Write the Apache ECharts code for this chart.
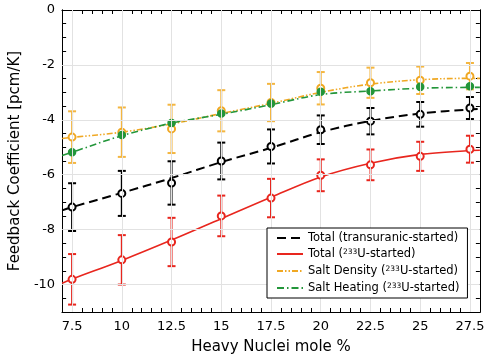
<!DOCTYPE html>
<html><head><meta charset="utf-8">
<script src="https://cdn.jsdelivr.net/npm/echarts@6/dist/echarts.min.js"></script>
<style>html,body{margin:0;padding:0;background:#fff}#c{width:487px;height:360px}</style>
</head><body><div id="c"></div>
<script>
const xs = [7.5, 10, 12.5, 15, 17.5, 20, 22.5, 25, 27.5];
const truPts = [-7.18, -6.68, -6.30, -5.50, -4.97, -4.36, -4.05, -3.80, -3.57];
const truErr = [0.87, 0.82, 0.79, 0.67, 0.62, 0.52, 0.48, 0.45, 0.40];
const u233Pts = [-9.81, -9.10, -8.45, -7.50, -6.85, -6.02, -5.64, -5.33, -5.07];
const u233Err = [0.92, 0.90, 0.88, 0.74, 0.70, 0.58, 0.56, 0.53, 0.49];
const densPts = [-4.63, -4.45, -4.33, -3.67, -3.37, -2.85, -2.65, -2.56, -2.41];
const densErr = [0.94, 0.90, 0.88, 0.75, 0.68, 0.59, 0.55, 0.50, 0.48];
const heatPts = [-5.18, -4.55, -4.12, -3.77, -3.41, -2.98, -2.96, -2.80, -2.78];

const xFit = [7, 7.5, 10, 12.5, 15, 17.5, 20, 22.5, 25, 27.5, 28];
const truFit = [-7.30, -7.18, -6.66, -6.12, -5.54, -5.02, -4.45, -4.04, -3.77, -3.62, -3.60];
const u233Fit = [-9.95, -9.80, -9.12, -8.38, -7.60, -6.82, -6.08, -5.58, -5.26, -5.12, -5.11];
const densFit = [-4.68, -4.64, -4.45, -4.15, -3.77, -3.40, -3.00, -2.70, -2.54, -2.49, -2.49];
const heatFit = [-5.30, -5.18, -4.58, -4.12, -3.80, -3.45, -3.08, -2.95, -2.85, -2.82, -2.82];

const xTicks = [7.5, 10, 12.5, 15, 17.5, 20, 22.5, 25, 27.5];
const yTicks = [0, -2, -4, -6, -8, -10];
const names = ['Total (transuranic-started)', 'Total (233U-started)', 'Salt Density (233U-started)', 'Salt Heating (233U-started)'];

const C = {black: '#000000', red: '#e8261e', orange: '#f0a823', green: '#23963a'};
const FONT = 'DejaVu Sans';

function pairs(x, y) { return x.map((v, i) => [v, y[i]]); }
function errData(x, y, e) { return x.map((v, i) => [v, y[i] - e[i], y[i] + e[i]]); }
function errSeries(x, y, e, color) {
  return {
    type: 'custom', xAxisIndex: 0, yAxisIndex: 0, z: 3, silent: true,
    data: errData(x, y, e),
    renderItem: function (params, api) {
      const xv = api.value(0);
      const p1 = api.coord([xv, api.value(2)]);
      const p2 = api.coord([xv, api.value(1)]);
      const w = 4;
      const st = {stroke: color, lineWidth: 2};
      return {type: 'group', children: [
        {type: 'line', shape: {x1: p1[0], y1: p1[1], x2: p2[0], y2: p2[1]}, style: st},
        {type: 'line', shape: {x1: p1[0] - w, y1: p1[1], x2: p1[0] + w, y2: p1[1]}, style: st},
        {type: 'line', shape: {x1: p2[0] - w, y1: p2[1], x2: p2[0] + w, y2: p2[1]}, style: st}
      ]};
    }
  };
}
function fitSeries(name, y, color, type, width) {
  return {name: name, type: 'line', xAxisIndex: 0, yAxisIndex: 0, z: 2, smooth: 0.35,
    showSymbol: false, symbol: 'none', silent: true,
    data: pairs(xFit, y), lineStyle: {color: color, width: width, type: type}, itemStyle: {color: color}};
}
function ptSeries(y, color, filled) {
  return {type: 'scatter', xAxisIndex: 0, yAxisIndex: 0, z: 4, silent: true,
    symbol: filled ? 'circle' : 'emptyCircle', symbolSize: 7,
    data: pairs(xs, y),
    itemStyle: {color: color, borderColor: color, borderWidth: 1.5, opacity: 1}};
}

const lineBase = {show: true, onZero: false, lineStyle: {color: '#000', width: 1}};
function xAx(pos, major, labels) {
  const a = {type: 'value', min: 7, max: 28, position: pos, axisLine: lineBase, splitLine: {show: false}};
  if (major) {
    a.axisTick = {show: true, inside: true, length: 7, customValues: xTicks, lineStyle: {color: '#000'}};
  } else {
    a.interval = 0.5;
    a.axisTick = {show: true, inside: true, length: 4, lineStyle: {color: '#000'}};
  }
  if (labels) {
    a.axisLabel = {show: true, customValues: xTicks, color: '#000', fontFamily: FONT, fontSize: 13, margin: 8,
      formatter: v => String(v)};
    a.name = 'Heavy Nuclei mole %';
    a.nameLocation = 'middle';
    a.nameGap = 28;
    a.nameTextStyle = {color: '#000', fontFamily: FONT, fontSize: 15};
  } else {
    a.axisLabel = {show: false};
  }
  return a;
}
function yAx(pos, major, labels) {
  const a = {type: 'value', min: -11, max: 0, position: pos, axisLine: lineBase, splitLine: {show: false}};
  if (major) {
    a.axisTick = {show: true, inside: true, length: 7, customValues: yTicks, lineStyle: {color: '#000'}};
  } else {
    a.interval = 0.5;
    a.axisTick = {show: true, inside: true, length: 4, lineStyle: {color: '#000'}};
  }
  if (labels) {
    a.axisLabel = {show: true, customValues: yTicks, color: '#000', fontFamily: FONT, fontSize: 13, margin: 7,
      formatter: v => String(v)};
    a.name = 'Feedback Coefficient [pcm/K]';
    a.nameLocation = 'middle';
    a.nameGap = 30;
    a.nameTextStyle = {color: '#000', fontFamily: FONT, fontSize: 15};
  } else {
    a.axisLabel = {show: false};
  }
  return a;
}

const chart = echarts.init(document.getElementById('c'), null, {renderer: 'canvas'});
chart.setOption({
  animation: false,
  backgroundColor: '#fff',
  grid: {left: 45, right: 4, top: 10, bottom: 45, containLabel: false},
  xAxis: [xAx('bottom', true, true), xAx('bottom', false, false), xAx('top', true, false), xAx('top', false, false)],
  yAxis: [yAx('left', true, true), yAx('left', false, false), yAx('right', true, false), yAx('right', false, false)],
  legend: {
    data: names, orient: 'vertical', left: 267, top: 228, z: 20,
    backgroundColor: '#fff', borderColor: '#000', borderWidth: 1, borderRadius: 0,
    padding: [4, 8, 3, 9], itemWidth: 26, itemHeight: 10, itemGap: 4,
    selectedMode: false,
    itemStyle: {opacity: 0},
    textStyle: {color: '#000', fontFamily: FONT, fontSize: 11.5,
      rich: {n: {fontFamily: FONT, fontSize: 11.5, color: '#000', lineHeight: 12},
             s: {fontFamily: FONT, fontSize: 7.5, color: '#000', verticalAlign: 'top', lineHeight: 12, padding: [0, 0, 5, 0]}}},
    formatter: function (n) {
      const i = n.indexOf('233');
      if (i < 0) return '{n|' + n + '}';
      return '{n|' + n.slice(0, i) + '}{s|233}{n|' + n.slice(i + 3) + '}';
    }
  },
  series: [
    {type: 'line', data: [], xAxisIndex: 0, yAxisIndex: 0, silent: true, z: 1,
      markLine: {silent: true, symbol: ['none', 'none'], label: {show: false}, animation: false,
        lineStyle: {color: '#e2e2e2', type: 'solid', width: 1},
        data: xTicks.map(v => ({xAxis: v})).concat(yTicks.filter(v => v !== 0).map(v => ({yAxis: v})))}},
    fitSeries(names[0], truFit, C.black, [9, 5], 2),
    fitSeries(names[1], u233Fit, C.red, 'solid', 1.6),
    fitSeries(names[2], densFit, C.orange, [6, 2, 1.5, 2, 1.5, 2], 1.6),
    fitSeries(names[3], heatFit, C.green, [7, 3, 1.5, 3], 1.6),
    errSeries(xs, truPts, truErr, C.black),
    errSeries(xs, u233Pts, u233Err, C.red),
    errSeries(xs, densPts, densErr, '#f4b640'),
    ptSeries(truPts, C.black, false),
    ptSeries(u233Pts, C.red, false),
    ptSeries(densPts, C.orange, false),
    ptSeries(heatPts, C.green, true)
  ]
});
</script></body></html>
